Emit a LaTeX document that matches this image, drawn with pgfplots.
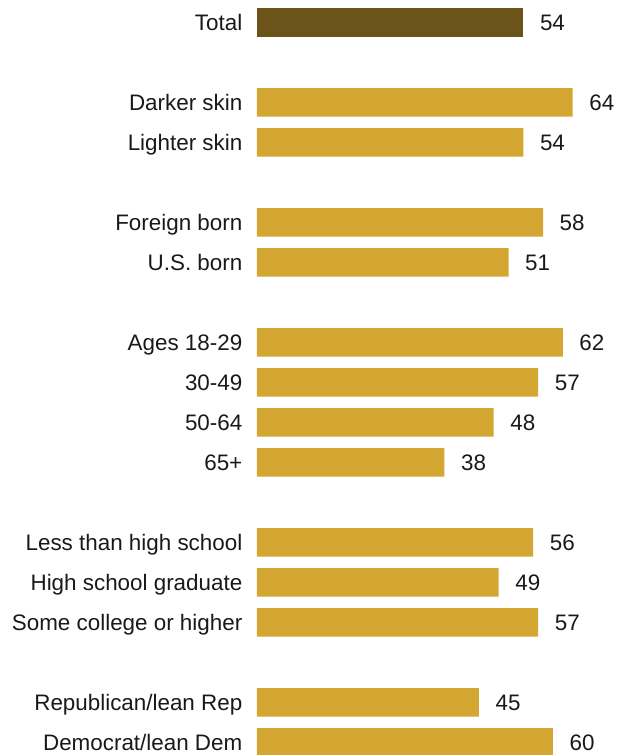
\documentclass[border=0pt]{standalone}
\usepackage{fontspec}
\setmainfont{Liberation Sans}
\usepackage{pgfplots}
\pgfplotsset{compat=1.18}
\definecolor{darkgold}{RGB}{107,83,25}
\definecolor{gold}{RGB}{212,166,50}
\definecolor{txt}{RGB}{25,25,25}
\begin{document}
\begin{tikzpicture}
\path[use as bounding box] (0,0) rectangle (618pt,755pt);
\begin{axis}[
  at={(257pt,0pt)}, anchor=south west,
  scale only axis, width=361pt, height=755pt,
  xmin=0, xmax=73.2,
  ymin=-18.3125, ymax=0.5625,
  xbar, bar width=28.5pt, bar shift=0pt,
  axis line style={draw=none},
  xtick=\empty,
  ytick={0,-2,-3,-5,-6,-8,-9,-10,-11,-13,-14,-15,-17,-18},
  yticklabels={Total,Darker skin,Lighter skin,Foreign born,U.S. born,Ages 18-29,30-49,50-64,65+,Less than high school,High school graduate,Some college or higher,Republican/lean Rep,Democrat/lean Dem},
  major tick length=0pt,
  ytick style={draw=none},
  yticklabel style={anchor=base east, inner sep=0pt, xshift=-14.5pt, yshift=-8.2pt, font=\fontsize{22.4}{26}\selectfont, text=txt},
  /pgf/number format/assume math mode=true,
  nodes near coords,
  nodes near coords style={anchor=base west, inner sep=0pt, xshift=16.5pt, yshift=-8.2pt, font=\fontsize{22.4}{26}\selectfont, text=txt},
  clip=false,
]
\addplot[fill=darkgold, draw=none] coordinates {(54,0)};
\addplot[fill=gold, draw=none] coordinates {
(64,-2) (54,-3) (58,-5) (51,-6) (62,-8) (57,-9) (48,-10) (38,-11)
(56,-13) (49,-14) (57,-15) (45,-17) (60,-18)};
\end{axis}
\end{tikzpicture}
\end{document}
